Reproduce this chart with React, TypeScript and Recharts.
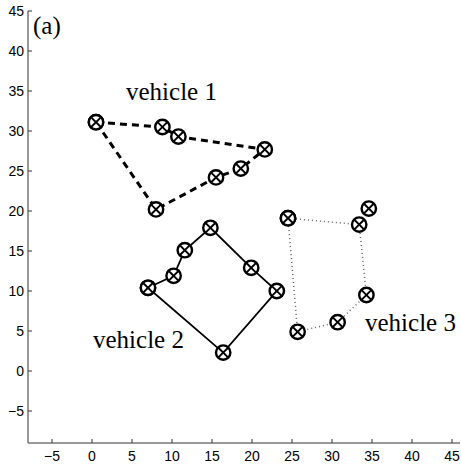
import { ScatterChart, Scatter, XAxis, YAxis } from "recharts";

// waypoints of each vehicle, in visiting order (the loop is closed below)
const vehicle1X = [0.5, 8.8, 10.8, 21.6, 18.6, 15.5, 8.0];
const vehicle1Y = [31.1, 30.5, 29.3, 27.7, 25.3, 24.2, 20.2];

const vehicle2X = [7.0, 10.2, 11.6, 14.8, 19.9, 23.1, 16.4];
const vehicle2Y = [10.4, 11.9, 15.1, 17.9, 12.9, 10.0, 2.3];

const vehicle3X = [24.5, 33.4, 34.3, 30.7, 25.7];
const vehicle3Y = [19.1, 18.3, 9.5, 6.1, 4.9];
// a waypoint of vehicle 3 that sits off its drawn route
const vehicle3ExtraX = [34.6];
const vehicle3ExtraY = [20.3];

const xTicks = [-5, 0, 5, 10, 15, 20, 25, 30, 35, 40, 45];
const yTicks = [-5, 0, 5, 10, 15, 20, 25, 30, 35, 40, 45];

const toLoop = (xs: number[], ys: number[]) => {
  const pts = xs.map((x, i) => ({ x, y: ys[i] }));
  return [...pts, pts[0]];
};
const toPoints = (xs: number[], ys: number[]) =>
  xs.map((x, i) => ({ x, y: ys[i] }));

const route1 = toLoop(vehicle1X, vehicle1Y);
const route2 = toLoop(vehicle2X, vehicle2Y);
const route3 = toLoop(vehicle3X, vehicle3Y);
const extra3 = toPoints(vehicle3ExtraX, vehicle3ExtraY);

// circle with a cross, the usual "otimes" marker
const CrossCircle = (props: any) => {
  const { cx, cy } = props;
  if (cx == null || cy == null) return null;
  const r = 7.2;
  const d = r * 0.7071;
  return (
    <g>
      <circle cx={cx} cy={cy} r={r} fill="#fff" stroke="#000" strokeWidth={2.4} />
      <line x1={cx - d} y1={cy - d} x2={cx + d} y2={cy + d} stroke="#000" strokeWidth={1.9} />
      <line x1={cx - d} y1={cy + d} x2={cx + d} y2={cy - d} stroke="#000" strokeWidth={1.9} />
    </g>
  );
};

const fmt = (v: number) => (v < 0 ? `\u2212${-v}` : `${v}`);

const tickStyle = {
  fill: "#000",
  fontSize: 14,
  fontFamily: "'Liberation Sans', Arial, sans-serif",
};

const labelStyle: React.CSSProperties = {
  position: "absolute",
  fontFamily: "'Liberation Serif', 'Times New Roman', serif",
  fontSize: 25,
  lineHeight: 1,
  color: "#000",
  whiteSpace: "nowrap",
};

export default function App() {
  return (
    <div
      style={{
        position: "absolute",
        left: 0,
        top: 0,
        width: 461,
        height: 468,
        background: "#fff",
        overflow: "hidden",
      }}
    >
      <ScatterChart
        width={461}
        height={468}
        margin={{ top: 11, right: 1, bottom: 0, left: 0 }}
      >
        <XAxis
          type="number"
          dataKey="x"
          domain={[-8, 46]}
          ticks={xTicks}
          tickFormatter={fmt}
          allowDataOverflow
          height={25}
          tickSize={-4}
          tickMargin={12}
          tick={tickStyle}
          axisLine={{ stroke: "#777", strokeWidth: 1.5 }}
          tickLine={{ stroke: "#333" }}
        />
        <YAxis
          type="number"
          dataKey="y"
          domain={[-9, 45]}
          ticks={yTicks}
          tickFormatter={fmt}
          allowDataOverflow
          width={28}
          tickSize={-4}
          tickMargin={8}
          tick={tickStyle}
          axisLine={{ stroke: "#777", strokeWidth: 1.5 }}
          tickLine={{ stroke: "#333" }}
        />
        <Scatter
          data={route1}
          fill="#000"
          line={{ stroke: "#000", strokeWidth: 3, strokeDasharray: "7 5" }}
          lineType="joint"
          shape={CrossCircle}
          isAnimationActive={false}
        />
        <Scatter
          data={route2}
          fill="#000"
          line={{ stroke: "#000", strokeWidth: 1.8 }}
          lineType="joint"
          shape={CrossCircle}
          isAnimationActive={false}
        />
        <Scatter
          data={route3}
          fill="#000"
          line={{ stroke: "#666", strokeWidth: 1.5, strokeDasharray: "1 3" }}
          lineType="joint"
          shape={CrossCircle}
          isAnimationActive={false}
        />
        <Scatter
          data={extra3}
          fill="#000"
          shape={CrossCircle}
          isAnimationActive={false}
        />
      </ScatterChart>
      <div style={{ ...labelStyle, left: 33, top: 13 }}>(a)</div>
      <div style={{ ...labelStyle, left: 126, top: 79 }}>vehicle 1</div>
      <div style={{ ...labelStyle, left: 93, top: 327 }}>vehicle 2</div>
      <div style={{ ...labelStyle, left: 365, top: 310 }}>vehicle 3</div>
    </div>
  );
}
